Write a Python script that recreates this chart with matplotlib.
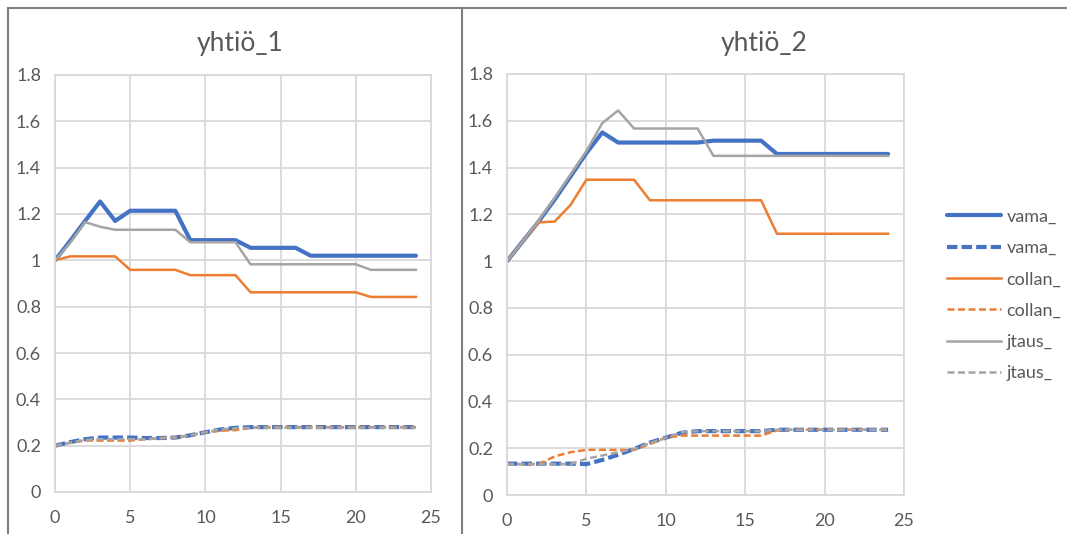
import matplotlib
import matplotlib.pyplot as plt
from matplotlib.lines import Line2D
from matplotlib.ticker import FuncFormatter, MultipleLocator

matplotlib.use("Agg")

plt.rcParams["font.family"] = ["Lato", "DejaVu Sans"]

# time steps 0..24
steps = list(range(25))

# yhtiö_1
vama_1 = [1.0, 1.083, 1.17, 1.254, 1.17, 1.214, 1.214, 1.214, 1.214,
          1.087, 1.087, 1.087, 1.087, 1.054, 1.054, 1.054, 1.054] + [1.02] * 8
vama_1_d = [0.2, 0.215, 0.228, 0.235, 0.235, 0.235, 0.233, 0.233, 0.235,
            0.245, 0.258, 0.27, 0.277] + [0.28] * 12
collan_1 = [1.0, 1.017, 1.017, 1.017, 1.017, 0.959, 0.959, 0.959, 0.959,
            0.936, 0.936, 0.936, 0.936] + [0.862] * 8 + [0.842] * 4
collan_1_d = [0.2, 0.213, 0.222, 0.222, 0.222, 0.222, 0.228, 0.233, 0.235,
              0.245, 0.258, 0.265, 0.267, 0.278] + [0.28] * 11
jtaus_1 = [1.0, 1.075, 1.165, 1.145, 1.132, 1.132, 1.132, 1.132, 1.132,
           1.078, 1.078, 1.078, 1.078] + [0.983] * 8 + [0.959] * 4
jtaus_1_d = [0.2, 0.212, 0.225, 0.228, 0.228, 0.228, 0.228, 0.232, 0.235,
             0.245, 0.258, 0.27, 0.275, 0.277] + [0.278] * 11

# yhtiö_2
vama_2 = [1.0, 1.085, 1.17, 1.263, 1.362, 1.462, 1.55] + [1.507] * 6 \
    + [1.515] * 4 + [1.458] * 8
vama_2_d = [0.134, 0.134, 0.134, 0.134, 0.134, 0.132, 0.15, 0.172, 0.197,
            0.224, 0.245, 0.266] + [0.273] * 5 + [0.279] * 8
collan_2 = [1.0, 1.085, 1.166, 1.169, 1.24, 1.348, 1.348, 1.348, 1.348] \
    + [1.26] * 8 + [1.117] * 8
collan_2_d = [0.132, 0.132, 0.132, 0.165, 0.183, 0.193, 0.193, 0.193, 0.193,
              0.218, 0.245, 0.254] + [0.254] * 5 + [0.276] + [0.279] * 7
jtaus_2 = [1.0, 1.085, 1.175, 1.27, 1.37, 1.47, 1.59, 1.644] + [1.567] * 5 \
    + [1.45] * 12
jtaus_2_d = [0.132] * 5 + [0.155, 0.169, 0.183, 0.197, 0.222, 0.245, 0.268] \
    + [0.273] * 5 + [0.279] * 8

labels = ["vama_", "vama_", "collan_", "collan_", "jtaus_", "jtaus_"]

BLUE = "#4472C4"
ORANGE = "#ED7D31"
GRAY = "#A5A5A5"
GRID = "#D9D9D9"
TEXT = "#595959"

STYLES = [
    dict(color=BLUE, lw=3.0, solid_capstyle="round"),
    dict(color=BLUE, lw=3.0, dashes=(2.5, 1.0)),
    dict(color=ORANGE, lw=1.8),
    dict(color=ORANGE, lw=1.8, dashes=(2.8, 1.4)),
    dict(color=GRAY, lw=1.8),
    dict(color=GRAY, lw=1.8, dashes=(2.8, 1.4)),
]

W, H = 1067, 534
fig = plt.figure(figsize=(W / 100, H / 100), dpi=100)
fig.patch.set_facecolor("white")


def setup_axes(ax):
    ax.set_xlim(0, 25)
    ax.set_ylim(0, 1.8)
    ax.xaxis.set_major_locator(MultipleLocator(5))
    ax.yaxis.set_major_locator(MultipleLocator(0.2))
    ax.yaxis.set_major_formatter(FuncFormatter(lambda v, _: f"{round(v, 1):g}"))
    ax.grid(True, color=GRID, lw=1.3)
    ax.set_axisbelow(True)
    for sp in ax.spines.values():
        sp.set_color(GRID)
        sp.set_linewidth(1.3)
    ax.tick_params(length=0, colors=TEXT, labelsize=13)
    ax.tick_params(axis="y", pad=10)
    ax.tick_params(axis="x", pad=13)


def draw(ax, series):
    handles = []
    for values, style in zip(series, STYLES):
        (ln,) = ax.plot(steps, values, **style)
        handles.append(ln)
    return handles


ax1 = fig.add_axes([55 / W, 1 - 492 / H, 376 / W, 417 / H])
ax2 = fig.add_axes([507 / W, 1 - 495 / H, 397 / W, 421 / H])
setup_axes(ax1)
setup_axes(ax2)

draw(ax1, [vama_1, vama_1_d, collan_1, collan_1_d, jtaus_1, jtaus_1_d])
handles = draw(ax2, [vama_2, vama_2_d, collan_2, collan_2_d, jtaus_2, jtaus_2_d])

fig.text(240 / W, 1 - 43 / H, "yhtiö_1", ha="center", va="center",
         fontsize=19, color=TEXT)
fig.text(764 / W, 1 - 43 / H, "yhtiö_2", ha="center", va="center",
         fontsize=19, color=TEXT)

fig.legend(handles, labels, loc="center left",
           bbox_to_anchor=(947 / W, 1 - 295 / H), frameon=False,
           fontsize=13, labelcolor=TEXT, handlelength=3.0,
           handletextpad=0.3, labelspacing=0.85, borderpad=0,
           borderaxespad=0)

# chart frames
frame = dict(color="#7F7F7F", lw=1.5, transform=fig.transFigure)
fig.add_artist(Line2D([8 / W, 1], [1 - 8 / H, 1 - 8 / H], **frame))
fig.add_artist(Line2D([8 / W, 8 / W], [0, 1 - 8 / H], **frame))
fig.add_artist(Line2D([462 / W, 462 / W], [0, 1 - 8 / H], **frame))

fig.savefig("out.png", dpi=100)
